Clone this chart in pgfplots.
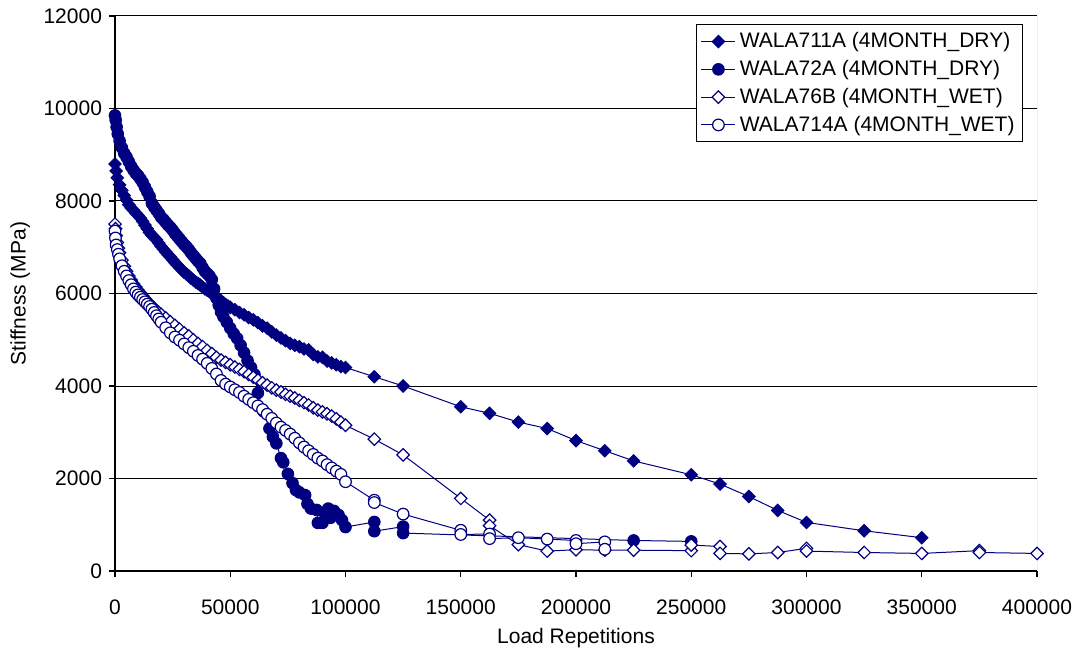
\documentclass[border=0pt]{standalone}
\usepackage{pgfplots}
\pgfplotsset{compat=1.18}
\usepackage{fontspec}
\setmainfont{Liberation Sans}
\definecolor{navy}{RGB}{0,0,128}
\begin{document}
\begin{tikzpicture}[font=\fontsize{10.5bp}{12.6bp}\selectfont]
\begin{axis}[
  scale only axis, width=461bp, height=277.5bp,
  xmin=0, xmax=400000, ymin=0, ymax=12000,
  xtick={0,50000,100000,150000,200000,250000,300000,350000,400000},
  xticklabels={0,50000,100000,150000,200000,250000,300000,350000,400000},
  ytick={0,2000,4000,6000,8000,10000,12000},
  yticklabels={0,2000,4000,6000,8000,10000,12000},
  scaled ticks=false,
  axis x line*=bottom, axis y line*=left,
  axis line style={black, line width=0.6bp},
  tick align=outside, major tick length=3bp,
  tick style={black, line width=0.6bp},
  ymajorgrids, major grid style={black, line width=0.5bp},
  xlabel={Load Repetitions}, ylabel={Stiffness (MPa)},
  ticklabel style={font=\fontsize{10.5bp}{12.6bp}\selectfont},
  xticklabel style={yshift=-8bp},
  label style={font=\fontsize{10.5bp}{12.6bp}\selectfont},
  legend style={at={(rel axis cs:1,1)}, anchor=north east, xshift=-7bp, yshift=-4bp,
    draw=black, line width=0.5bp, font=\fontsize{10.5bp}{12.6bp}\selectfont, row sep=0.8bp,
    inner xsep=2bp, inner ysep=2bp},
  legend cell align=left,
  every axis plot/.append style={line width=0.5bp, color=navy},
]
\draw[gray, line width=0.5bp] (rel axis cs:1,0) -- (rel axis cs:1,1);
\coordinate (pa) at (rel axis cs:0,0);
\coordinate (pb) at (rel axis cs:1,1);
% WALA711A
\addplot[navy, mark=square*, mark size=2.2bp, mark options={rotate=45, fill=navy, draw=navy, line width=0.5bp}] coordinates {
(0,8800)(500,8650)(1000,8500)(2000,8350)(3000,8230)(4000,8120)(5000,8020)(6000,7920)(7000,7850)(8000,7800)(9000,7740)(10000,7690)
(11000,7630)(12000,7560)(13000,7480)(14000,7400)(15000,7320)(16000,7260)(17000,7210)(18000,7160)(19000,7090)(20000,7020)
(21000,6960)(22000,6900)(23000,6840)(24000,6790)(25000,6730)(26000,6670)(27000,6620)(28000,6560)(29000,6510)(30000,6460)
(31000,6420)(32000,6380)(33000,6330)(34000,6290)(35000,6250)(36000,6220)(37000,6180)(38000,6140)(39000,6100)(40000,6070)
(41000,6040)(42000,6000)(43000,5960)(44000,5920)(45000,5880)(46000,5840)(47000,5800)(48000,5760)(49000,5730)(50000,5700)
(52000,5650)(54000,5590)(56000,5540)(58000,5480)(60000,5430)(62000,5370)(64000,5300)(66000,5250)(68000,5170)(70000,5100)
(72000,5040)(74000,4980)(76000,4920)(78000,4880)(80000,4850)(82000,4800)(84000,4780)(86000,4680)(88000,4630)(90000,4620)
(92000,4540)(94000,4500)(96000,4460)(98000,4420)(100000,4400)
(112500,4200)(125000,4000)(150000,3550)(162500,3410)(175000,3220)(187500,3080)(200000,2820)(212500,2600)(225000,2380)
(250000,2080)(262500,1880)(275000,1610)(287500,1310)(300000,1050)(325000,870)(350000,720)
};
\addlegendentry{WALA711A (4MONTH\_DRY)}
% WALA72A
\addplot[navy, mark=*, mark size=2.9bp, mark options={fill=navy, draw=navy, line width=0.5bp}] coordinates {
(0,9850)(300,9750)(700,9600)(1200,9450)(2000,9300)(3000,9150)(4000,9030)(5000,8950)(6000,8850)(7000,8750)(8000,8670)(9000,8600)
(10000,8550)(11000,8480)(12000,8400)(13000,8300)(14000,8200)(15000,8100)(16000,7950)(17000,7870)(18000,7800)(19000,7730)
(20000,7650)(21000,7600)(22000,7540)(23000,7480)(24000,7430)(25000,7370)(26000,7300)(27000,7240)(28000,7180)(29000,7120)
(30000,7060)(31000,7010)(32000,6950)(33000,6880)(34000,6820)(35000,6760)(36000,6700)(37000,6650)(38000,6560)(39000,6480)
(40000,6430)(41000,6380)(42000,6300)(43000,6100)(44000,5900)(45000,5750)(46000,5600)(47000,5500)(48500,5380)(50000,5250)
(51500,5130)(53000,5030)(54500,4880)(56000,4720)(57500,4550)(59000,4400)(60500,4250)(62000,3850)(64500,3450)(67000,3080)
(68500,2900)(70000,2760)(72000,2440)(73000,2350)(75000,2100)(77000,1900)(78500,1750)(80000,1700)(82500,1640)(83500,1450)
(85000,1350)(87500,1320)(88000,1040)(90000,1040)(91000,1250)(92500,1350)(93500,1150)(95000,1300)(97000,1210)(98500,1100)
(100000,950)(112500,1060)(112500,860)(125000,960)(125000,820)(225000,660)(250000,640)
};
\addlegendentry{WALA72A (4MONTH\_DRY)}
% WALA76B
\addplot[navy, mark=square*, mark size=2.2bp, mark options={rotate=45, fill=white, draw=navy, line width=0.6bp}] coordinates {
(0,7500)(200,7400)(500,7250)(1000,7100)(1500,6980)(2000,6880)(3000,6720)(4000,6590)(5000,6480)(6000,6380)(7000,6290)(8000,6210)
(9000,6140)(10000,6070)(11000,6010)(12000,5950)(13000,5890)(14000,5830)(15000,5780)(16000,5730)(17000,5680)(18000,5630)
(19000,5590)(20000,5550)(22000,5470)(24000,5390)(26000,5310)(28000,5230)(30000,5150)(32000,5080)(34000,5000)(36000,4920)
(38000,4850)(40000,4770)(42000,4700)(44000,4620)(46000,4560)(48000,4510)(50000,4460)(52000,4410)(54000,4360)(56000,4310)
(58000,4250)(60000,4190)(62000,4130)(64000,4070)(66000,4020)(68000,3960)(70000,3910)(72000,3870)(74000,3820)(76000,3780)
(78000,3740)(80000,3690)(82000,3640)(84000,3590)(86000,3530)(88000,3480)(90000,3440)(92000,3400)(94000,3350)(96000,3290)
(98000,3220)(100000,3150)
(112500,2850)(125000,2510)(150000,1570)(162500,1100)(162500,980)(175000,570)(187500,430)(200000,460)(212500,450)(225000,450)
(250000,440)(250000,560)(262500,530)(262500,380)(275000,370)(287500,400)(300000,490)(300000,430)(325000,400)(350000,380)
(375000,440)(375000,400)(400000,380)
};
\addlegendentry{WALA76B (4MONTH\_WET)}
% WALA714A
\addplot[navy, mark=*, mark size=2.9bp, mark options={fill=white, draw=navy, line width=0.6bp}] coordinates {
(0,7350)(200,7200)(500,7050)(1000,6950)(1500,6850)(2000,6750)(3000,6600)(4000,6480)(5000,6380)(6000,6280)(7000,6190)(8000,6100)
(9000,6030)(10000,5970)(11000,5920)(12000,5870)(13000,5820)(14000,5770)(15000,5720)(16000,5660)(17000,5590)(18000,5520)
(19000,5450)(20000,5380)(22000,5260)(24000,5150)(26000,5060)(28000,4990)(30000,4910)(32000,4830)(34000,4750)(36000,4660)
(38000,4580)(40000,4490)(42000,4380)(44000,4260)(46000,4120)(48000,4040)(50000,3980)(52000,3920)(54000,3860)(56000,3780)
(58000,3710)(60000,3640)(62000,3570)(64000,3490)(66000,3390)(68000,3300)(70000,3200)(72000,3110)(74000,3040)(76000,2960)
(78000,2870)(80000,2770)(82000,2680)(84000,2600)(86000,2520)(88000,2440)(90000,2380)(92000,2300)(94000,2230)(96000,2160)
(98000,2090)(100000,1930)
(112500,1530)(112500,1480)(125000,1230)(150000,880)(150000,790)(162500,800)(162500,700)(175000,720)(187500,690)(200000,660)
(200000,590)(212500,630)(212500,470)
};
\addlegendentry{WALA714A (4MONTH\_WET)}
\end{axis}
\pgfresetboundingbox
\path[use as bounding box] ([xshift=-57.5bp,yshift=-40.5bp]pa) rectangle ([xshift=20.5bp,yshift=8bp]pb);
\end{tikzpicture}
\end{document}
